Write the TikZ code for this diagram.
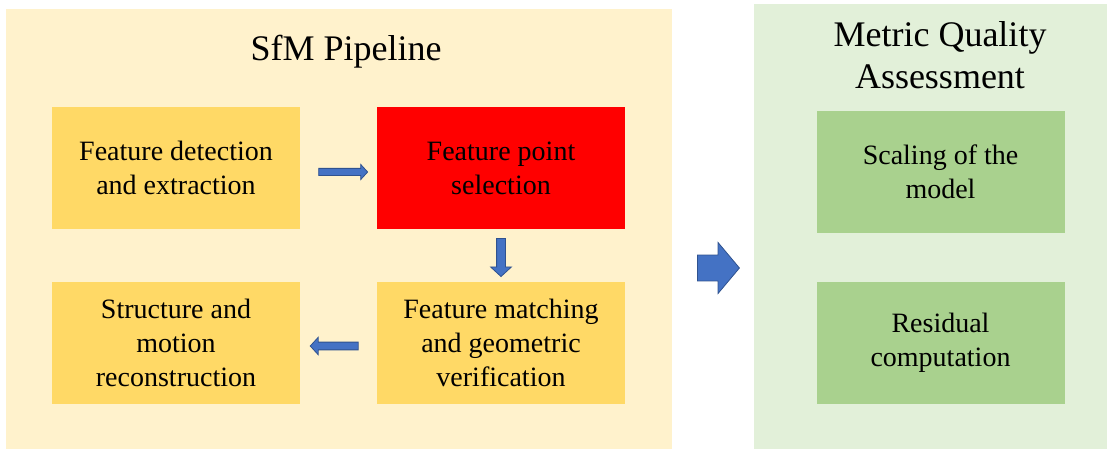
\documentclass[tikz,border=0pt]{standalone}
\usepackage{fontspec}
\setmainfont{Liberation Serif}
\newfontfamily\timesface{Liberation Serif}
\usetikzlibrary{calc,shapes.arrows}

\definecolor{sfmback}{RGB}{255,242,204}
\definecolor{sfmbox}{RGB}{255,217,102}
\definecolor{selred}{RGB}{255,0,0}
\definecolor{mqaback}{RGB}{226,240,217}
\definecolor{mqabox}{RGB}{169,209,142}
\definecolor{arrowfill}{RGB}{68,114,196}
\definecolor{arrowline}{RGB}{47,82,143}

\tikzset{every picture/.style={line width=0.75pt}}
\tikzset{
  stepbox/.style={align=center, minimum width=186pt, minimum height=91.5pt, inner sep=0pt,
    font=\timesface\fontsize{21}{25.5}\selectfont},
  panetitle/.style={align=center, font=\timesface\fontsize{27}{31.5}\selectfont},
  flowarrow/.style={single arrow, fill=arrowfill, draw=arrowline, line width=0.6pt,
    inner xsep=0pt, inner ysep=2.4pt, minimum width=0pt, single arrow head extend=3pt,
    single arrow tip angle=95},
}

\begin{document}
\begin{tikzpicture}[x=0.75pt,y=0.75pt,yscale=-1,xscale=1]
		\useasboundingbox (0,0) rectangle (1107,449);

		% panels
		\fill [sfmback] (6,9) rectangle (672,449);
		\fill [mqaback] (754,4) rectangle (1107,449);

		\node [panetitle] (sfmtitle) at (346,52) {SfM Pipeline};
		\node [panetitle] (mqatitle) at (940,55) {Metric Quality\\Assessment};

		% SfM steps
		\node [stepbox, fill=sfmbox] (detect) at (176,168) {Feature detection\\and extraction};
		\node [stepbox, fill=selred] (select) at (501,168) {Feature point\\selection};
		\node [stepbox, fill=sfmbox] (match) at (501,343) {Feature matching\\and geometric\\verification};
		\node [stepbox, fill=sfmbox] (recon) at (176,343) {Structure and\\motion\\reconstruction};

		% assessment steps
		\node [stepbox, fill=mqabox] (scaling) at (940.5,172) {Scaling of the\\model};
		\node [stepbox, fill=mqabox] (resid) at (940.5,343) {Residual\\computation};

		% arrows
		\node [flowarrow, minimum height=36.75pt] (a1) at ($(detect.east)!0.5!(select.west)+(3,4)$) {};
		\node [flowarrow, minimum height=28.5pt, rotate=-90, inner ysep=3pt, single arrow head extend=4.5pt] (a2) at ($(select.south)!0.5!(match.north)$) {};
		\node [flowarrow, minimum height=36pt, rotate=180, inner ysep=2.6pt, single arrow head extend=3.6pt] (a3) at ($(match.west)!0.5!(recon.east)+(-2.5,3)$) {};
		\node [flowarrow, minimum height=31.5pt, inner ysep=9.4pt, single arrow head extend=9.4pt, single arrow tip angle=100] (a4) at (713,268) {};

		\end{tikzpicture}
\end{document}
